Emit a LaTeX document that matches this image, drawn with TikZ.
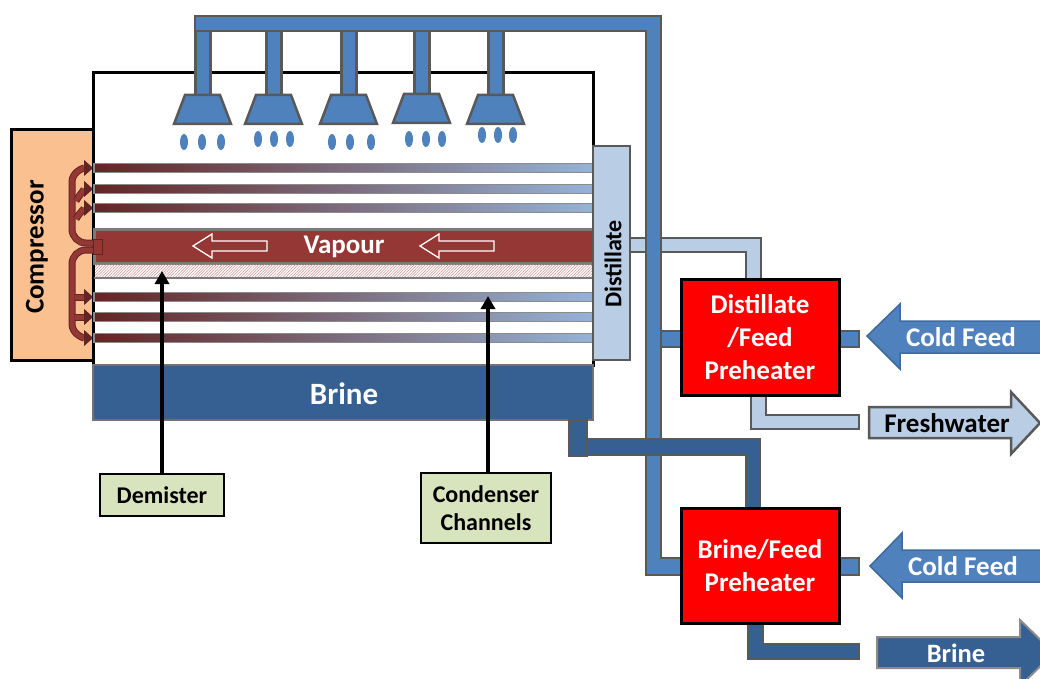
\documentclass[tikz,border=0pt]{standalone}
\usepackage{fontspec}
\setmainfont{Carlito}
\usetikzlibrary{arrows.meta,patterns.meta}

\definecolor{pipegray}{HTML}{595959}
\definecolor{feedblue}{HTML}{4F81BD}
\definecolor{brineblue}{HTML}{366092}
\definecolor{distblue}{HTML}{B9CDE5}
\definecolor{vapourred}{HTML}{953735}
\definecolor{steamdark}{HTML}{632523}
\definecolor{tubeblue}{HTML}{95B3D7}
\definecolor{compfill}{HTML}{FAC090}
\definecolor{labelgreen}{HTML}{D7E4BD}

\begin{document}
\begin{tikzpicture}[x=1pt,y=-1pt,
	txt/.style={font=\bfseries\fontsize{#1}{33}\selectfont,inner sep=0pt,align=center},
	pipe/.style={draw=pipegray,line width=2.5pt,fill=#1,line join=miter},
	tube/.style={draw=pipegray!70,line width=1.8pt,left color=steamdark,right color=tubeblue},
	heater/.style={draw=black,line width=3pt,fill=red,text=white},
	callout/.style={draw=black,line width=1.8pt,fill=labelgreen},
	callarrow/.style={line width=3.5pt,-{Triangle[length=13pt,width=14pt]}},
	steam/.style={draw=steamdark,line width=1pt,double=vapourred,double distance=5pt,-{Triangle[length=9pt,width=16pt]}}]
	\clip (0,0) rectangle (1040,679);

	\filldraw[draw=black,line width=3pt,fill=compfill] (11,130) rectangle (93,360);
	\filldraw[draw=black,line width=3pt,fill=white] (93,73) rectangle (593,365);

	\foreach \y in {168,189,208,297,317,338}
		\filldraw[tube] (94,\y-4.5) rectangle (593,\y+4.5);

	\filldraw[draw=pipegray!80,line width=3pt,fill=vapourred] (94,229) rectangle (593,263);
	\filldraw[draw=none,pattern={Lines[angle=45,distance=2pt,line width=.5pt]},pattern color=vapourred!55] (95,264) rectangle (593,277);
	\draw[pipegray!80,line width=2pt] (94,278) -- (593,278);

	\foreach \tipx in {193,420}
		\draw[white,line width=1.3pt] (\tipx,246) -- ++(19,-12) -- ++(0,7) -- ++(55,0) -- ++(0,10) -- ++(-55,0) -- ++(0,7) -- cycle;

	\draw[steam] (100,243) -- (86,243) to[out=180,in=-90] (72,229) -- (72,182) to[out=90,in=180] (93,168);
	\draw[steam] (100,250) -- (86,250) to[out=180,in=90] (72,264) -- (72,324) to[out=-90,in=180] (93,338);
	\draw[steam] (76,201) to[out=60,in=180] (93,189);
	\draw[steam] (76,219) to[out=60,in=180] (93,208);
	\draw[steam] (75,297) -- (93,297);
	\draw[steam] (75,317) -- (93,317);
	\filldraw[draw=steamdark,line width=1pt,fill=vapourred] (93,239) rectangle (102,254);

	\filldraw[pipe=brineblue,draw=pipegray!85] (93,365) rectangle (593,420);

	\foreach \stemx/\nozy/\dropy/\dropa/\dropb/\dropc in {203/95/142/184/202/221,274/95/139/258/274/290,349/95/142/332/350/371,422/94/139/409/426/442,496/95/135/482/498/513}{
		\filldraw[pipe=feedblue] (\stemx-7.5,25) rectangle (\stemx+7.5,\nozy);
		\filldraw[pipe=feedblue] (\stemx-18,\nozy) -- (\stemx+17,\nozy) -- (\stemx+28,\nozy+29) -- (\stemx-29,\nozy+29) -- cycle;
		\foreach \dropx in {\dropa,\dropb,\dropc}
			\fill[feedblue] (\dropx,\dropy) ellipse (4 and 8);
	}

	\filldraw[pipe=distblue] (630,238) -- (761,238) -- (761,285) -- (746,285) -- (746,252) -- (630,252) -- cycle;
	\filldraw[pipe=distblue] (751,390) -- (766,390) -- (766,415) -- (859,415) -- (859,429) -- (751,429) -- cycle;

	\filldraw[pipe=feedblue] (195,16) -- (661,16) -- (661,558) -- (685,558) -- (685,575) -- (646,575) -- (646,31) -- (195,31) -- cycle;
	\filldraw[pipe=feedblue] (661,331) rectangle (685,347);
	\filldraw[pipe=feedblue] (835,331) rectangle (859,347);
	\filldraw[pipe=feedblue] (835,558) rectangle (859,575);

	\filldraw[pipe=brineblue] (569,420) rectangle (587,456);
	\filldraw[pipe=brineblue] (587,439) -- (760,439) -- (760,512) -- (746,512) -- (746,455) -- (587,455) -- cycle;
	\draw[pipegray,line width=2.5pt,fill=brineblue] (748,617) -- (763,617) -- (763,644) -- (859,644) -- (859,659) -- (748,659) -- cycle;

	\filldraw[pipe=distblue] (593,146) rectangle (630,360);

	\node[txt=27,rotate=90] (compressor) at (37,247) {Compressor};
	\node[txt=24,rotate=90] (distillate) at (613,264) {Distillate};
	\node[txt=27,text=white] (vapour) at (344,247) {Vapour};
	\node[txt=31,text=white] (brine) at (344,394) {Brine};

	\node[heater,txt=27,minimum width=158pt,minimum height=116pt] (distheater) at (760,337.5) {Distillate\\/Feed\\Preheater};
	\node[heater,txt=27,minimum width=158pt,minimum height=115pt] (brineheater) at (760,565.5) {Brine/Feed\\Preheater};

	\filldraw[draw=brineblue!70!feedblue,line width=1.5pt,fill=feedblue] (867,336) -- (900,304) -- (900,321) -- (1042,321) -- (1042,353) -- (900,353) -- (900,369) -- cycle;
	\filldraw[draw=brineblue!70!feedblue,line width=1.5pt,fill=feedblue] (870,566) -- (902,533) -- (902,550) -- (1042,550) -- (1042,582) -- (902,582) -- (902,598) -- cycle;
	\filldraw[pipe=distblue] (869,407) -- (1011,407) -- (1011,392) -- (1040,423) -- (1011,454) -- (1011,438) -- (869,438) -- cycle;
	\filldraw[draw=pipegray!70,line width=2pt,fill=brineblue] (877,637) -- (1020,637) -- (1020,620) -- (1054,653) -- (1020,686) -- (1020,668) -- (877,668) -- cycle;

	\node[txt=27,text=white] (coldfeedtop) at (961,337) {Cold Feed};
	\node[txt=27,text=white] (coldfeedbot) at (963,566) {Cold Feed};
	\node[txt=27] (freshwater) at (947,423) {Freshwater};
	\node[txt=26.5,text=white] (brineout) at (956,653) {Brine};

	\node[callout,txt=24,minimum width=124pt,minimum height=42pt] (demister) at (162,495) {Demister};
	\node[callout,txt=24,minimum width=130pt,minimum height=70pt] (condenser) at (486,508) {Condenser\\[-5pt]Channels};

	\coordinate (demistertip) at (162,271);
	\coordinate (condensertip) at (488,296);
	\draw[callarrow] (demister.north) -- (demistertip);
	\draw[callarrow] (condenser.north -| condensertip) -- (condensertip);
\end{tikzpicture}
\end{document}
